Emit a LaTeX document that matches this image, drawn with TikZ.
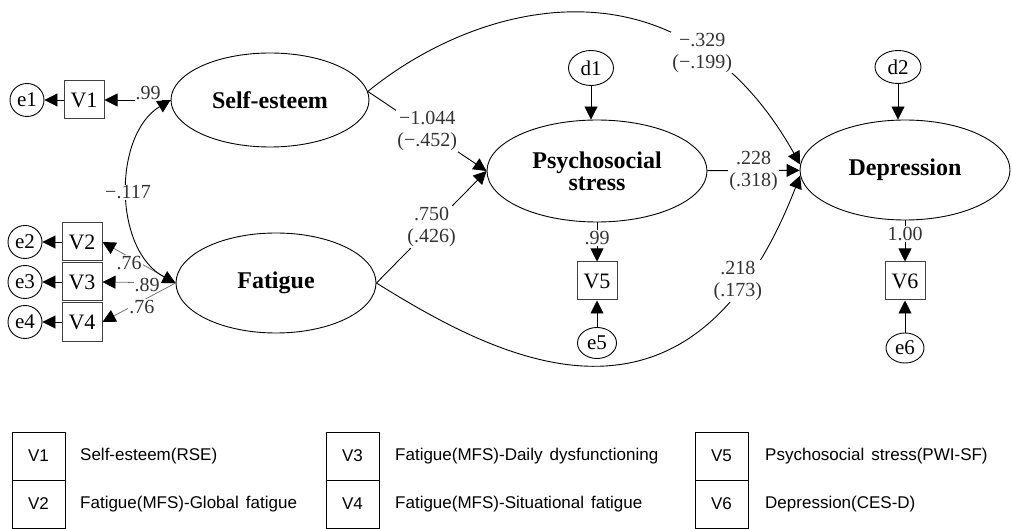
\documentclass[tikz,border=0pt]{standalone}
\usepackage{fontspec}
\setmainfont{Liberation Serif}
\newfontfamily\legendfont[WordSpace=1.5]{Liberation Sans}
\usepackage{tikz}
\usetikzlibrary{arrows.meta,shapes.geometric}
\tikzset{
	latent/.style={draw, ellipse, line width=0.9pt, inner sep=0pt, align=center, font=\fontsize{24}{22}\selectfont\bfseries},
	observed/.style={draw=black!75, rectangle, line width=1pt, minimum width=40pt, minimum height=38pt, inner sep=0pt, font=\fontsize{22}{24}\selectfont},
	errterm/.style={draw, ellipse, line width=0.9pt, minimum width=34pt, minimum height=33pt, inner sep=0pt, font=\fontsize{21}{24}\selectfont},
	link/.style={line width=0.9pt, -{Triangle[length=13pt,width=13pt]}},
	loadline/.style={line width=0.8pt, draw=black!55, -{Triangle[length=13pt,width=13pt,color=black]}},
	covar/.style={line width=0.9pt, {Triangle[length=13pt,width=13pt]}-{Triangle[length=13pt,width=13pt]}},
	coef/.style={fill=white, inner sep=1pt, align=center, text=black!80, font=\fontsize{20}{22}\selectfont},
	legcell/.style={draw, rectangle, line width=0.9pt, minimum width=53pt, minimum height=48pt, inner sep=0pt, font=\legendfont\fontsize{17}{19}\selectfont},
	legtext/.style={anchor=west, inner sep=0pt, font=\legendfont\fontsize{17}{19}\selectfont}
}

\begin{document}
\begin{tikzpicture}[x=1pt, y=-1pt]
			%%%%% START %%%%%
			\useasboundingbox (0,0) rectangle (1012,529);
			
			\node[latent, minimum width=198pt, minimum height=94pt] (selfest) at (270,100) {Self-esteem};
			\node[latent, minimum width=200pt, minimum height=100pt] (fatigue) at (276,283) {Fatigue};
			\node[latent, minimum width=220pt, minimum height=102pt] (psystress) at (597,171) {Psychosocial\\stress};
			\node[latent, minimum width=210pt, minimum height=100pt] (depress) at (905,170) {Depression};
			
			\node[observed] (v1) at (84,100) {V1};
			\node[observed] (v2) at (82,242) {V2};
			\node[observed] (v3) at (82,282) {V3};
			\node[observed] (v4) at (82,322) {V4};
			\node[observed] (v5) at (597,281) {V5};
			\node[observed] (v6) at (905,281) {V6};
			
			\node[errterm] (e1) at (27,100) {e1};
			\node[errterm] (e2) at (25,242) {e2};
			\node[errterm] (e3) at (25,282) {e3};
			\node[errterm] (e4) at (25,322) {e4};
			\node[errterm, minimum width=39pt, minimum height=31pt] (e5) at (597,343) {e5};
			\node[errterm, minimum width=38pt, minimum height=30pt] (e6) at (905,348) {e6};
			\node[errterm, minimum width=45pt, minimum height=35pt] (d1) at (591,68) {d1};
			\node[errterm, minimum width=46pt, minimum height=33pt] (d2) at (898,67) {d2};
			
			% measurement part
			\draw[link] (v1) -- (e1);
			\draw[link] (v2) -- (e2);
			\draw[link] (v3) -- (e3);
			\draw[link] (v4) -- (e4);
			\draw[link] (selfest) -- node[coef, pos=0.34, yshift=7pt] {.99} (v1);
			\draw[loadline] (fatigue.west) -- node[coef, pos=0.635, yshift=-6pt] {.76} (v2.east);
			\draw[loadline] (fatigue.west) -- node[coef, pos=0.39, yshift=-2pt] {.89} (v3.east);
			\draw[loadline] (fatigue.west) -- node[coef, pos=0.46, yshift=-6pt] {.76} (v4.east);
			\draw[covar] (selfest.west) .. controls (113,135) and (113,250) .. (fatigue.west) node[coef, pos=0.5] {−.117};
			
			\draw[link] (d1) -- (d1 |- psystress.north);
			\draw[link] (d2) -- (d2 |- depress.north);
			\draw[link] (psystress.south) -- node[coef, pos=0.4] {.99} (v5);
			\draw[link] (depress.south) -- node[coef, pos=0.33] {1.00} (v6);
			\draw[link] (e5) -- (v5);
			\draw[link] (e6) -- (v6);
			
			% structural part
			\draw[link] (selfest.5) -- node[coef] {−1.044\\(−.452)} (psystress.west);
			\draw[link] (fatigue.east) -- node[coef] {.750\\(.426)} (psystress.west);
			\draw[link] (psystress) -- node[coef] {.228\\(.318)} (depress);
			\draw[link] (selfest.5) .. controls (480,0) and (680,-50) .. (depress.177) node[coef, pos=0.76] {−.329\\(−.199)};
			\draw[link] (fatigue.east) .. controls (500,360) and (690,460) .. (depress.183) node[coef, pos=0.83, yshift=8pt] {.218\\(.173)};
			
			% legend
			\node[legcell] (l1) at (38.5,456) {V1};
			\node[legcell] (l2) at (38.5,504) {V2};
			\node[legcell] (l3) at (352.5,456) {V3};
			\node[legcell] (l4) at (352.5,504) {V4};
			\node[legcell] (l5) at (721.5,456) {V5};
			\node[legcell] (l6) at (721.5,504) {V6};
			\node[legtext] (t1) at (80,456) {Self-esteem(RSE)};
			\node[legtext] (t2) at (80,504) {Fatigue(MFS)-Global fatigue};
			\node[legtext] (t3) at (395,456) {Fatigue(MFS)-Daily dysfunctioning};
			\node[legtext] (t4) at (395,504) {Fatigue(MFS)-Situational fatigue};
			\node[legtext] (t5) at (765,456) {Psychosocial stress(PWI-SF)};
			\node[legtext] (t6) at (765,504) {Depression(CES-D)};
			
			%%%%% END %%%%%
\end{tikzpicture}
\end{document}
